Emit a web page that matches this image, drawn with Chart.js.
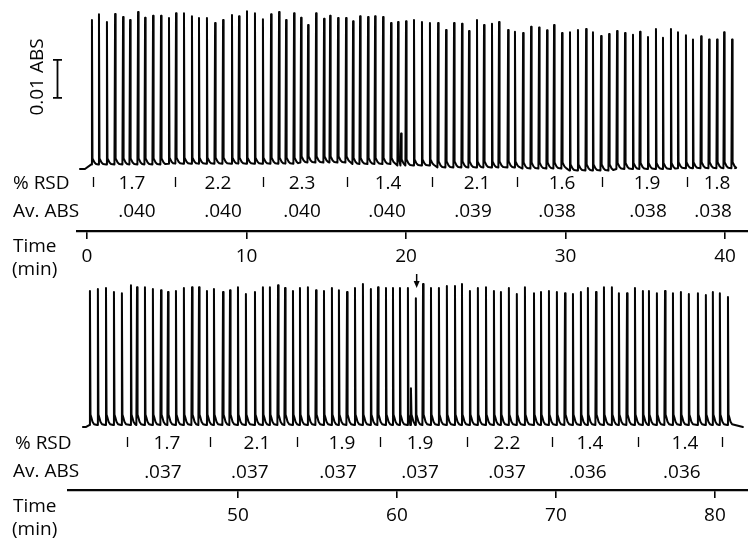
<!DOCTYPE html>
<html>
<head>
<meta charset="utf-8">
<script src="https://cdn.jsdelivr.net/npm/chart.js@4.4.1/dist/chart.umd.min.js"></script>
<style>
  html, body { margin: 0; padding: 0; background: #ffffff; }
  #wrap { position: relative; width: 748px; height: 538px; overflow: hidden; background: #fff; }
  canvas { position: absolute; left: 0; }
  #cTop { top: 0; }
  #cBot { top: 255px; }
</style>
</head>
<body>
<div id="wrap">
  <canvas id="cTop" width="748" height="285"></canvas>
  <canvas id="cBot" width="748" height="283"></canvas>
</div>
<script>
// ---------------- DATA ----------------
// Upper trace: peak times (min) and peak heights above baseline (ABS)
const topTimes = [0.31,0.75,1.25,1.76,2.26,2.70,3.20,3.64,4.14,4.64,
  5.14,5.58,6.08,6.58,7.02,7.52,8.03,8.53,9.09,9.53,10.03,10.53,11.03,11.54,12.04,12.48,12.98,
  13.42,13.86,14.36,14.86,15.24,15.74,16.24,
  16.68,17.12,17.62,18.06,18.56,19.06,
  19.50,19.69,20.00,20.50,21.00,21.50,
  22.01,22.51,23.01,23.51,23.95,24.45,24.89,25.39,25.83,26.40,
  26.83,
  27.34,27.84,28.34,28.84,29.28,29.78,
  30.28,30.78,31.29,31.72,32.23,32.73,
  33.23,33.73,34.23,34.67,35.17,35.67,36.11,36.61,
  37.05,37.55,37.99,38.50,39.00,39.50,39.94,40.44];
const topHeights = [0.0380,0.0395,0.0375,0.0396,0.0388,0.0380,0.0401,0.0386,0.0391,0.0391,
  0.0383,0.0396,0.0396,0.0388,0.0383,0.0383,0.0370,0.0378,0.0391,0.0388,0.0401,0.0396,0.0380,0.0393,0.0399,0.0378,0.0396,
  0.0381,0.0362,0.0393,0.0378,0.0386,0.0380,0.0380,
  0.0376,0.0389,0.0387,0.0389,0.0387,0.0371,
  0.0378,0.0084,0.0380,0.0383,0.0378,0.0375,
  0.0380,0.0362,0.0380,0.0378,0.0359,0.0388,0.0375,0.0378,0.0383,0.0362,
  0.0357,
  0.0357,0.0373,0.0371,0.0364,0.0378,0.0357,
  0.0364,0.0370,0.0372,0.0364,0.0354,0.0359,
  0.0363,0.0358,0.0353,0.0361,0.0347,0.0368,0.0345,0.0368,
  0.0358,0.0350,0.0339,0.0347,0.0339,0.0339,0.0358,0.0339];
// baseline level (ABS) of the upper trace, from the given time on
const topBaseFrom  = [-1, 4.9, 13.2, 16.45, 19.3, 21.8, 27.1, 30.05, 33.0, 36.8];
const topBaseLevel = [0.0020,0.0022,0.0025,0.0021,0.0017,0.0012,0.0009,0.0004,0.0008,0.0010];
const topLeadT = [-0.44, -0.13], topLeadV = [0.0008, 0.0008];
const topEndT = [40.63], topEndV = [0.0010];

// Lower trace
const botTimes = [40.69,41.19,41.70,42.20,42.70,43.27,43.65,44.15,44.65,45.16,45.60,46.10,46.60,47.11,47.55,48.05,48.49,49.06,49.50,50.00,50.50,51.07,51.57,52.01,52.52,52.96,53.46,
  53.90,54.40,54.91,55.41,55.91,56.35,56.86,57.36,57.86,58.36,58.81,59.31,59.75,60.19,60.69,60.88,61.19,61.64,62.14,62.64,63.14,63.65,64.09,64.59,65.09,65.60,66.10,66.54,67.04,
  67.54,68.05,68.62,69.06,69.56,70.06,70.57,71.07,71.57,72.01,72.52,73.02,73.52,73.96,74.47,74.97,75.47,75.85,76.35,76.86,77.36,77.86,78.36,78.93,79.43,79.87,80.31,80.82];
const botHeights = [0.0353,0.0358,0.0361,0.0350,0.0347,0.0368,0.0363,0.0363,0.0358,0.0355,0.0350,0.0353,0.0361,0.0363,0.0363,0.0353,0.0358,0.0350,0.0355,0.0363,0.0345,0.0350,0.0363,0.0363,0.0368,0.0361,0.0353,
  0.0361,0.0363,0.0355,0.0353,0.0361,0.0355,0.0350,0.0361,0.0371,0.0358,0.0363,0.0361,0.0361,0.0361,0.0361,0.0097,0.0334,0.0371,0.0361,0.0361,0.0366,0.0366,0.0371,0.0353,0.0361,0.0363,0.0353,0.0350,0.0361,
  0.0345,0.0363,0.0347,0.0350,0.0353,0.0350,0.0347,0.0345,0.0350,0.0361,0.0350,0.0363,0.0363,0.0347,0.0347,0.0361,0.0353,0.0353,0.0347,0.0353,0.0347,0.0350,0.0345,0.0347,0.0342,0.0350,0.0347,0.0337];
const botBaseFrom = [-1], botBaseLevel = [0.0013];
const botLeadT = [40.25, 40.45], botLeadV = [0.0008, 0.0008];
const botEndT = [81.76], botEndV = [0.0008];

// Segment annotations
const topSepTimes = [0.38, 5.52, 11.03, 16.30, 21.63, 26.96, 32.29, 37.62];
const topRsd      = ['1.7','2.2','2.3','1.4','2.1','1.6','1.9','1.8'];
const topRsdTimes = [2.82, 8.21, 13.48, 18.87, 24.45, 29.78, 35.11, 39.50];
const topAbs      = ['.040','.040','.040','.040','.039','.038','.038','.038'];
const topAbsTimes = [3.13, 8.53, 13.48, 18.81, 24.20, 29.47, 35.17, 39.25];

const botSepTimes = [43.02, 48.24, 53.71, 58.93, 64.40, 69.75, 75.16, 80.44];
const botRsd      = ['1.7','2.1','1.9','1.9','2.2','1.4','1.4'];
const botRsdTimes = [45.53, 51.19, 56.54, 61.45, 66.92, 72.14, 78.11];
const botAbs      = ['.037','.037','.037','.037','.037','.036','.036'];
const botAbsTimes = [45.28, 50.75, 56.29, 61.45, 66.92, 72.01, 77.92];

const topTicks = [0, 10, 20, 30, 40],  topTickLabels = ['0','10','20','30','40'];
const botTicks = [50, 60, 70, 80],     botTickLabels = ['50','60','70','80'];

const scaleBarValue = 0.01;      // 0.01 ABS bar
const scaleBarLabel = '0.01 ABS';
const arrowTime = 61.24;         // injection arrow, lower trace

// ---------------- BUILD ----------------
const INK = '#050505';
const FONT = '19px "Open Sans"';

function stepLookup(from, level, t) {
  let v = level[0];
  for (let i = 0; i < from.length; i++) if (t >= from[i]) v = level[i];
  return v;
}
function buildTrace(times, heights, bFrom, bLevel, leadT, leadV, endT, endV, shoulder) {
  const pts = [];
  leadT.forEach((t, i) => pts.push({x: t, y: leadV[i]}));
  const tail = [[0.035, 1.0], [0.09, 0.7], [0.16, 0.32], [0.26, 0.08]];
  for (let i = 0; i < times.length; i++) {
    const t = times[i], b = stepLookup(bFrom, bLevel, t);
    const limit = i + 1 < times.length ? times[i + 1] - 0.06 : Infinity;
    pts.push({x: t - 0.04, y: b});
    pts.push({x: t, y: b + heights[i]});
    for (const [dt, f] of tail) if (t + dt < limit) pts.push({x: t + dt, y: b + shoulder * f});
  }
  endT.forEach((t, i) => pts.push({x: t, y: endV[i]}));
  return pts;
}

const annot = {
  id: 'annot',
  afterDraw(chart, args, o) {
    const ctx = chart.ctx, xs = chart.scales.x, ys = chart.scales.y;
    ctx.save();
    ctx.fillStyle = INK; ctx.strokeStyle = INK;
    ctx.font = FONT;
    ctx.textBaseline = 'alphabetic';
    ctx.textAlign = 'left';
    o.left.forEach(l => ctx.fillText(l[0], l[1], l[2]));
    // separators
    ctx.lineWidth = 1.3;
    o.sep.forEach(t => {
      const x = Math.round(xs.getPixelForValue(t)) + 0.5;
      ctx.beginPath(); ctx.moveTo(x, o.sepY[0]); ctx.lineTo(x, o.sepY[1]); ctx.stroke();
    });
    ctx.textAlign = 'center';
    o.rsd.forEach((s, i) => ctx.fillText(s, xs.getPixelForValue(o.rsdT[i]), o.rsdY));
    o.abs.forEach((s, i) => ctx.fillText(s, xs.getPixelForValue(o.absT[i]), o.absY));
    if (o.bar) {
      const y0 = ys.getPixelForValue(o.bar.from), y1 = ys.getPixelForValue(o.bar.from + scaleBarValue);
      const bx = o.bar.x;
      ctx.lineWidth = 1.8;
      ctx.beginPath();
      ctx.moveTo(bx, y0); ctx.lineTo(bx, y1);
      ctx.moveTo(bx - 4.5, y0); ctx.lineTo(bx + 4.5, y0);
      ctx.moveTo(bx - 4.5, y1); ctx.lineTo(bx + 4.5, y1);
      ctx.stroke();
      ctx.save();
      ctx.translate(o.bar.tx, o.bar.ty);
      ctx.rotate(-Math.PI / 2);
      ctx.textAlign = 'center';
      ctx.fillText(scaleBarLabel, 0, 0);
      ctx.restore();
    }
    if (o.arrow) {
      const ax = xs.getPixelForValue(o.arrow.t);
      ctx.lineWidth = 1.5;
      ctx.beginPath(); ctx.moveTo(ax, o.arrow.y0); ctx.lineTo(ax, o.arrow.y1 - 4); ctx.stroke();
      ctx.beginPath();
      ctx.moveTo(ax, o.arrow.y1); ctx.lineTo(ax - 3, o.arrow.y1 - 7); ctx.lineTo(ax + 3, o.arrow.y1 - 7);
      ctx.closePath(); ctx.fill();
    }
    ctx.restore();
  }
};

function makeChart(id, data, xr, yr, padL, padT, axisH, ticks, tickLabels, annotOpts) {
  return new Chart(document.getElementById(id), {
    type: 'line',
    data: { datasets: [{ data: data, borderColor: INK, borderWidth: 2, pointRadius: 0,
      tension: 0, fill: false, borderJoinStyle: 'round', borderCapStyle: 'round' }] },
    options: {
      responsive: false, animation: false, devicePixelRatio: 1,
      events: [],
      layout: { padding: { left: padL, right: 0, top: padT, bottom: 0 } },
      plugins: { legend: { display: false }, tooltip: { enabled: false }, annot: annotOpts },
      scales: {
        x: {
          type: 'linear', min: xr[0], max: xr[1], position: 'bottom',
          border: { display: true, color: INK, width: 2.2 },
          grid: { display: true, drawOnChartArea: false, drawTicks: true, tickLength: 8, color: INK, lineWidth: 1.6 },
          ticks: { color: INK, font: { family: 'Open Sans', size: 19 }, padding: 6, maxRotation: 0, autoSkip: false,
                   callback: (v, i) => tickLabels[i] },
          afterBuildTicks: s => { s.ticks = ticks.map(v => ({ value: v })); },
          afterFit: s => { s.height = axisH; }
        },
        y: { display: false, min: yr[0], max: yr[1] }
      }
    },
    plugins: [annot]
  });
}

function draw() {
  const topData = buildTrace(topTimes, topHeights, topBaseFrom, topBaseLevel, topLeadT, topLeadV, topEndT, topEndV, 0.0016);
  const botData = buildTrace(botTimes, botHeights, botBaseFrom, botBaseLevel, botLeadT, botLeadV, botEndT, botEndV, 0.0028);

  makeChart('cTop', topData, [-0.627, 41.44], [-0.015526, 0.043947], 77, 5, 54, topTicks, topTickLabels, {
    left: [['% RSD', 13, 189], ['Av. ABS', 13, 217], ['Time', 13, 252], ['(min)', 12, 275]],
    sep: topSepTimes, sepY: [177, 187],
    rsd: topRsd, rsdT: topRsdTimes, rsdY: 189,
    abs: topAbs, absT: topAbsTimes, absY: 217,
    bar: { x: 57.5, from: 0.0195, tx: 43, ty: 77 }
  });
  makeChart('cBot', botData, [39.31, 82.08], [-0.01579, 0.04211], 68, 15, 48, botTicks, botTickLabels, {
    left: [['% RSD', 15, 194], ['Av. ABS', 13, 222], ['Time', 13, 257], ['(min)', 12, 280]],
    sep: botSepTimes, sepY: [182, 192],
    rsd: botRsd, rsdT: botRsdTimes, rsdY: 194,
    abs: botAbs, absT: botAbsTimes, absY: 223,
    arrow: { t: arrowTime, y0: 19, y1: 33 }
  });
}

if (document.fonts && document.fonts.load) {
  document.fonts.load(FONT).then(draw, draw);
} else { draw(); }
</script>
</body>
</html>
